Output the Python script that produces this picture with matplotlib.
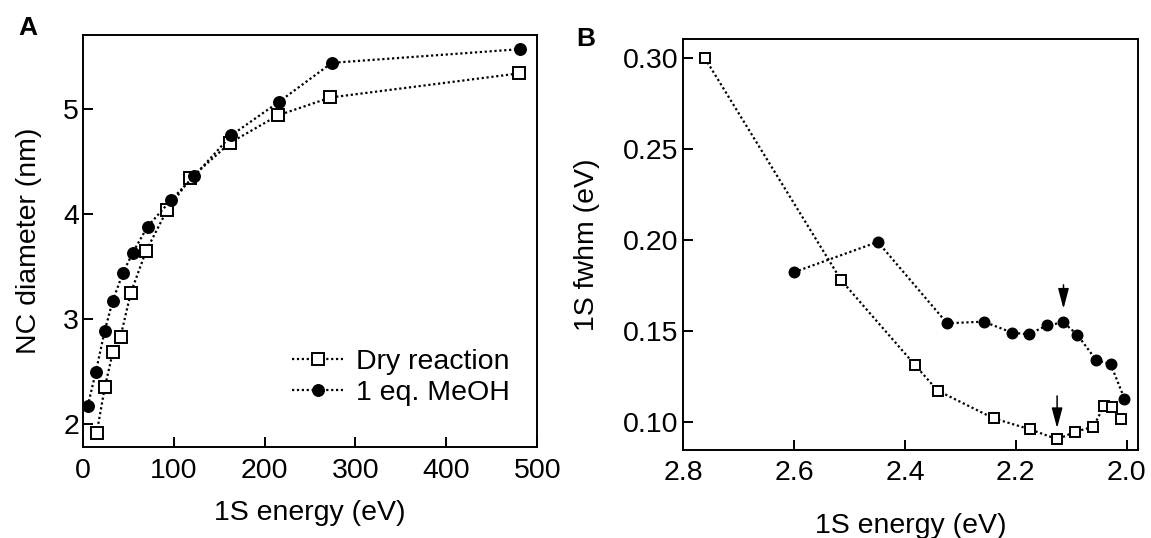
import matplotlib
matplotlib.use("Agg")
import matplotlib.pyplot as plt

plt.rcParams['font.family'] = ['Liberation Sans', 'DejaVu Sans']
plt.rcParams['font.size'] = 20.5

# panel A: NC diameter vs 1S energy
a_dry_x = [15.3, 24.3, 33.3, 41.6, 52.9, 69.8, 92.9, 118.4, 162.4, 214.9, 272.5, 480.4]
a_dry_y = [1.91, 2.35, 2.69, 2.83, 3.25, 3.65, 4.04, 4.34, 4.68, 4.94, 5.11, 5.34]
a_meoh_x = [5.5, 14.5, 24.3, 32.9, 44.3, 54.9, 71.3, 96.9, 122.4, 163.5, 216.1, 274.1, 480.8]
a_meoh_y = [2.17, 2.50, 2.89, 3.17, 3.44, 3.63, 3.88, 4.13, 4.36, 4.75, 5.07, 5.44, 5.57]

# panel B: 1S fwhm vs 1S energy
b_dry_x = [2.761, 2.515, 2.382, 2.341, 2.240, 2.175, 2.125, 2.093, 2.060, 2.041, 2.026, 2.011]
b_dry_y = [0.300, 0.178, 0.1315, 0.1174, 0.1022, 0.0962, 0.0907, 0.0948, 0.0976, 0.1090, 0.1082, 0.1016]
b_meoh_x = [2.600, 2.449, 2.324, 2.258, 2.206, 2.177, 2.143, 2.114, 2.089, 2.055, 2.029, 2.004]
b_meoh_y = [0.1825, 0.1991, 0.1544, 0.1553, 0.1492, 0.1484, 0.1533, 0.1549, 0.1481, 0.1342, 0.1320, 0.1130]

# arrows in panel B: (x, tail y, tip y)
arrows = [(2.114, 0.1755, 0.1624), (2.1255, 0.1145, 0.0968)]

labels = ['Dry reaction', '1 eq. MeOH']

W, H = 1151, 538
fig = plt.figure(figsize=(W / 100, H / 100), dpi=100)

def px_axes(l, t, r, b):
    return fig.add_axes([l / W, 1 - b / H, (r - l) / W, (b - t) / H])

ax1 = px_axes(82.7, 35, 537.3, 446.7)
ax2 = px_axes(683.3, 39.3, 1138.3, 450)

dots = (0, (1, 1.2))
line_kw = dict(color='black', lw=1.6, linestyle=dots)

ax1.plot(a_dry_x, a_dry_y, marker='s', ms=8.3, mfc='white', mec='black', mew=1.4,
         label=labels[0], **line_kw)
ax1.plot(a_meoh_x, a_meoh_y, marker='o', ms=8.3, mfc='black', mec='black',
         label=labels[1], **line_kw)
ax1.set_xlim(0, 498)
ax1.set_ylim(1.784, 5.705)
ax1.set_xticks([0, 100, 200, 300, 400, 500])
ax1.set_yticks([2, 3, 4, 5])
ax1.set_xlabel('1S energy (eV)')
ax1.set_ylabel('NC diameter (nm)')
ax1.xaxis.set_label_coords(0.5, -0.1295)
ax1.yaxis.set_label_coords(-0.09, 0.5)
ax1.tick_params(axis='x', direction='in', length=7, width=1.4, pad=8)
ax1.tick_params(axis='y', direction='in', length=7, width=1.4, pad=2.7)
ax1.legend(loc='center left', bbox_to_anchor=(0.4597, 0.168), frameon=False,
           fontsize=20.5, handlelength=1.82, handletextpad=0.45, borderpad=0,
           borderaxespad=0, labelspacing=0.15, numpoints=1)

ax2.plot(b_dry_x, b_dry_y, marker='s', ms=7, mfc='white', mec='black', mew=1.4,
         **line_kw)
ax2.plot(b_meoh_x, b_meoh_y, marker='o', ms=7.6, mfc='black', mec='black', **line_kw)
for x, y0, y1 in arrows:
    ax2.annotate('', xy=(x, y1), xytext=(x, y0),
                 arrowprops=dict(arrowstyle='-|>,head_length=0.6,head_width=0.16',
                                 color='black', lw=1.1, shrinkA=0, shrinkB=0))
ax2.set_xlim(2.8, 1.979)
ax2.set_ylim(0.0848, 0.3104)
ax2.set_xticks([2.8, 2.6, 2.4, 2.2, 2.0])
ax2.set_xticklabels(['2.8', '2.6', '2.4', '2.2', '2.0'])
ax2.set_yticks([0.10, 0.15, 0.20, 0.25, 0.30])
ax2.set_yticklabels(['0.10', '0.15', '0.20', '0.25', '0.30'])
ax2.set_xlabel('1S energy (eV)')
ax2.set_ylabel('1S fwhm (eV)')
ax2.xaxis.set_label_coords(0.5, -0.154)
ax2.yaxis.set_label_coords(-0.183, 0.5)
ax2.tick_params(axis='x', direction='in', length=7, width=1.4, pad=7.2)
ax2.tick_params(axis='y', direction='in', length=7, width=1.4, pad=3.6)

for ax in (ax1, ax2):
    for s in ax.spines.values():
        s.set_linewidth(1.4)

fig.text(18 / W, 1 - 35 / H, 'A', fontsize=19, fontweight='bold', va='baseline')
fig.text(576.7 / W, 1 - 45.7 / H, 'B', fontsize=19, fontweight='bold', va='baseline')

fig.savefig('out.png', dpi=100)
